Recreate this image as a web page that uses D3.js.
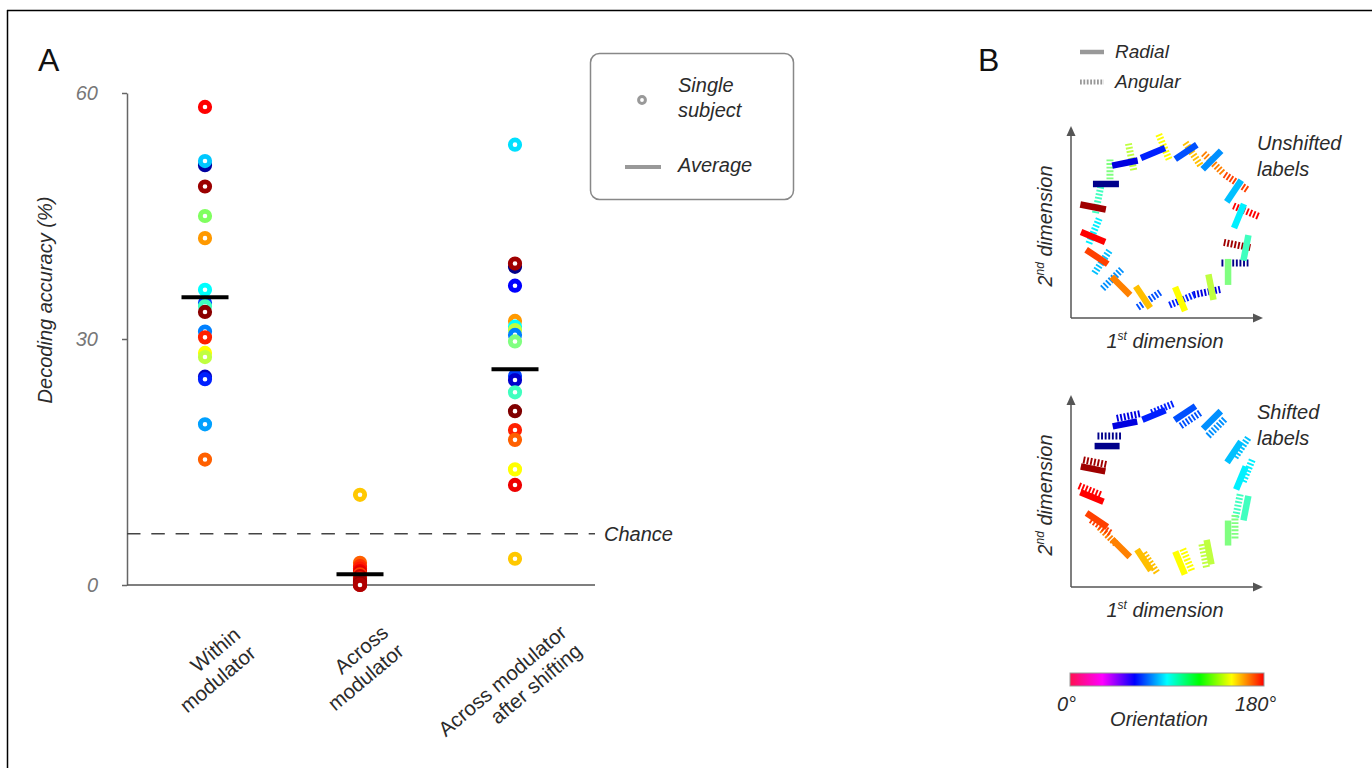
<!DOCTYPE html>
<html><head><meta charset="utf-8">
<script src="https://cdn.jsdelivr.net/npm/d3@7"></script>
<style>
body{margin:0;background:#fff;}
svg text{font-family:"Liberation Sans",Arial,sans-serif;}
</style></head><body>
<svg id="c" width="1372" height="768"></svg>
<script>
// ---------------- DATA ----------------
const categories = ["Within\nmodulator", "Across\nmodulator", "Across modulator\nafter shifting"];
const yTicks = [0, 30, 60];
const chanceLevel = 6.25;
const averages = [35.1, 1.3, 26.3];

const withinValues = [58.3, 51.2, 51.7, 48.6, 45.0, 42.3, 36.0, 34.4, 34.0, 33.3, 30.9, 30.2, 28.3, 27.8, 25.4, 25.1, 19.6, 15.3];
const withinColors = ["#ff0000", "#0000a0", "#00c8ff", "#9b0000", "#80ff60", "#ff9900", "#00ffff", "#0040ff", "#40ffbf", "#8b0000", "#0080ff", "#ff2000", "#ffff00", "#c0ff40", "#0000c0", "#0020ff", "#00a0ff", "#ff6000"];

const acrossValues = [11.0, 2.7, 2.3, 2.0, 1.7, 1.5, 1.3, 1.1, 0.9, 0.8, 0.6, 0.5, 0.4, 0.3, 0.2, 0.1, 0.0, 0.0];
const acrossColors = ["#ffc800", "#ff6000", "#ff3000", "#ff1a00", "#f00000", "#e00000", "#ff4000", "#d00000", "#c00000", "#ff2000", "#b00000", "#c00000", "#a00000", "#b00000", "#900000", "#a00000", "#c00000", "#b00000"];

const shiftedValues = [53.7, 38.8, 39.2, 36.5, 32.2, 31.5, 31.1, 30.5, 29.7, 25.5, 25.0, 23.5, 21.2, 18.9, 17.7, 14.1, 12.2, 3.2];
const shiftedColors = ["#00e0ff", "#00008b", "#a00000", "#0000ff", "#ff9900", "#00ffff", "#c0ff40", "#0080ff", "#80ff80", "#0040ff", "#0000cc", "#40ffbf", "#800000", "#ff2000", "#ff6000", "#ffff00", "#ee0000", "#ffc800"];

// Panel B: 16 orientations (degrees) and their colours
const orientations = d3.range(16).map(k => k * 11.25);
const orientationColors = ["#00008b", "#0000e0", "#0020ff", "#0050ff", "#0090ff", "#00c0ff", "#00f0ff", "#40ffbf", "#80ff80", "#bfff40", "#ffff00", "#ffbf00", "#ff8000", "#ff4000", "#ff0000", "#a00000"];
// positions in (1st dimension, 2nd dimension) units 0..100
const unshiftedRadialX = [18.2, 28.1, 42.7, 59.9, 73.4, 84.9, 87.5, 91.1, 81.8, 72.9, 56.8, 37.5, 26.0, 13.5, 11.5, 11.5];
const unshiftedRadialY = [69.8, 80.7, 85.9, 86.5, 82.3, 66.1, 53.1, 36.5, 24.0, 16.1, 9.9, 10.9, 16.7, 31.8, 42.2, 57.8];
const unshiftedAngularX = [85.4, 70.8, 57.8, 40.6, 21.4, 16.1, 12.0, 14.1, 20.3, 31.3, 48.4, 63.5, 74.0, 85.9, 91.1, 86.5];
const unshiftedAngularY = [28.6, 13.5, 9.4, 9.4, 20.3, 29.2, 45.3, 61.5, 75.5, 83.9, 89.1, 85.4, 80.7, 70.8, 55.7, 38.0];
const shiftedRadialX = [18.8, 28.1, 43.2, 59.4, 73.4, 84.9, 88.5, 91.1, 81.8, 71.9, 56.8, 38.0, 26.0, 13.5, 10.9, 11.5];
const shiftedRadialY = [73.4, 84.9, 89.6, 90.6, 87.0, 70.3, 56.8, 41.1, 28.1, 18.2, 12.5, 14.1, 20.3, 34.9, 46.9, 61.5];
const shiftedAngularX = [20.3, 30.2, 47.9, 62.5, 76.0, 89.1, 92.2, 87.0, 85.4, 69.3, 60.4, 41.1, 18.8, 15.1, 9.4, 12.0];
const shiftedAngularY = [78.6, 89.1, 93.2, 87.5, 83.3, 72.9, 60.9, 42.7, 31.8, 16.7, 14.6, 13.0, 27.1, 31.8, 50.5, 65.1];

const colorbarStops = ["#ff1050", "#ff00ff", "#0000ff", "#00ffff", "#00ff00", "#ffff00", "#ff0000"];

// ---------------- DRAW ----------------
const svg = d3.select("#c");
const TXT = "#2b2b2b";

// frame
svg.append("line").attr("x1", 7).attr("x2", 1372).attr("y1", 10.5).attr("y2", 10.5).attr("stroke", "#000").attr("stroke-width", 1.5);
svg.append("line").attr("x1", 7.5).attr("x2", 7.5).attr("y1", 10).attr("y2", 768).attr("stroke", "#000").attr("stroke-width", 1.5);

// panel letters
svg.append("text").attr("x", 38).attr("y", 71).attr("font-size", 32).attr("fill", "#111").text("A");
svg.append("text").attr("x", 978).attr("y", 71).attr("font-size", 32).attr("fill", "#111").text("B");

// ===== Panel A =====
const yA = d3.scaleLinear().domain([0, 60]).range([585, 93]);
const xA = d3.scalePoint().domain(d3.range(categories.length)).range([205, 515]);
const axisX = 127;

const yAxis = d3.axisLeft(yA).tickValues(yTicks).tickSize(5).tickSizeOuter(0).tickPadding(24).tickFormat(d3.format("d"));
const gy = svg.append("g").attr("transform", `translate(${axisX},0)`).call(yAxis);
gy.select(".domain").attr("stroke", "#666").attr("stroke-width", 1.5);
gy.selectAll(".tick line").attr("stroke", "#666").attr("stroke-width", 1.5);
gy.selectAll(".tick text").attr("font-size", 20).attr("font-style", "italic").attr("fill", "#777")
  .attr("font-family", "Liberation Sans, Arial, sans-serif");

// x baseline
svg.append("line").attr("x1", axisX).attr("x2", 595).attr("y1", yA(0)).attr("y2", yA(0)).attr("stroke", "#555").attr("stroke-width", 1.5);
// chance
svg.append("line").attr("x1", axisX).attr("x2", 595).attr("y1", yA(chanceLevel)).attr("y2", yA(chanceLevel))
  .attr("stroke", "#444").attr("stroke-width", 1.6).attr("stroke-dasharray", "13.5,10.8");
svg.append("text").attr("x", 604).attr("y", yA(chanceLevel) + 7).attr("font-size", 20).attr("font-style", "italic").attr("fill", TXT).text("Chance");

// y label
svg.append("text").attr("transform", "translate(52,300) rotate(-90)").attr("text-anchor", "middle")
  .attr("font-size", 20).attr("font-style", "italic").attr("fill", TXT).text("Decoding accuracy (%)");

// dots
const cols = [
  {v: withinValues, c: withinColors},
  {v: acrossValues, c: acrossColors},
  {v: shiftedValues, c: shiftedColors}
];
cols.forEach((col, i) => {
  svg.append("g").selectAll("circle").data(col.v).join("circle")
    .attr("cx", xA(i)).attr("cy", d => yA(d)).attr("r", 4.7)
    .attr("fill", "#fff").attr("stroke", (d, j) => col.c[j]).attr("stroke-width", 4.8);
});
// averages
svg.append("g").selectAll("line").data(averages).join("line")
  .attr("x1", (d, i) => xA(i) - 23.5).attr("x2", (d, i) => xA(i) + 23.5)
  .attr("y1", d => yA(d)).attr("y2", d => yA(d)).attr("stroke", "#000").attr("stroke-width", 4);

// category labels (right-aligned blocks rotated about their centre)
const labelCentres = [[210, 670], [358, 668], [510, 690]];
categories.forEach((cat, i) => {
  const lines = cat.split("\n");
  const g = svg.append("g").attr("transform", `translate(${labelCentres[i][0]},${labelCentres[i][1]}) rotate(-40)`);
  const ts = lines.map((l, k) => g.append("text").attr("font-size", 20.5).attr("fill", TXT)
      .attr("text-anchor", "end").attr("y", (k - (lines.length - 1) / 2) * 24 + 7).text(l));
  const w = d3.max(ts, t => t.node().getComputedTextLength());
  ts.forEach(t => t.attr("x", w / 2));
});

// legend A
svg.append("rect").attr("x", 590.5).attr("y", 53.5).attr("width", 203).attr("height", 146).attr("rx", 9)
  .attr("fill", "#fff").attr("stroke", "#888").attr("stroke-width", 1.5);
svg.append("circle").attr("cx", 642).attr("cy", 100).attr("r", 3.4).attr("fill", "#fff").attr("stroke", "#999").attr("stroke-width", 3);
svg.append("line").attr("x1", 625).attr("x2", 661).attr("y1", 167).attr("y2", 167).attr("stroke", "#999").attr("stroke-width", 4);
[["Single", 678, 92], ["subject", 678, 117], ["Average", 678, 172]].forEach(d => {
  svg.append("text").attr("x", d[1]).attr("y", d[2]).attr("font-size", 20).attr("font-style", "italic").attr("fill", TXT).text(d[0]);
});

// ===== Panel B =====
// legend B
svg.append("line").attr("x1", 1080).attr("x2", 1104).attr("y1", 52).attr("y2", 52).attr("stroke", "#999").attr("stroke-width", 4.5);
svg.append("line").attr("x1", 1080).attr("x2", 1104).attr("y1", 82).attr("y2", 82).attr("stroke", "#999").attr("stroke-width", 5).attr("stroke-dasharray", "1.8,1.6");
svg.append("text").attr("x", 1115).attr("y", 58).attr("font-size", 19).attr("font-style", "italic").attr("fill", TXT).text("Radial");
svg.append("text").attr("x", 1115).attr("y", 88).attr("font-size", 19).attr("font-style", "italic").attr("fill", TXT).text("Angular");

const xB = d3.scaleLinear().domain([0, 100]).range([1071, 1263]);
const yTop = d3.scaleLinear().domain([0, 100]).range([318, 126]);
const yBot = d3.scaleLinear().domain([0, 100]).range([587, 395]);

function drawAxes(yS, title1, title2) {
  const g = svg.append("g");
  const x0 = xB(0), y0 = yS(0), xT = xB(100), yT = yS(100);
  g.append("line").attr("x1", x0).attr("x2", x0).attr("y1", y0).attr("y2", yT + 8).attr("stroke", "#555").attr("stroke-width", 1.5);
  g.append("line").attr("x1", x0).attr("x2", xT - 8).attr("y1", y0).attr("y2", y0).attr("stroke", "#555").attr("stroke-width", 1.5);
  g.append("path").attr("d", `M${x0},${yT} L${x0 - 4.5},${yT + 10} L${x0 + 4.5},${yT + 10} Z`).attr("fill", "#555");
  g.append("path").attr("d", `M${xT},${y0} L${xT - 10},${y0 - 4.5} L${xT - 10},${y0 + 4.5} Z`).attr("fill", "#555");
  const t1 = g.append("text").attr("x", (x0 + xT) / 2 - 2).attr("y", y0 + 30).attr("text-anchor", "middle")
    .attr("font-size", 20).attr("font-style", "italic").attr("fill", TXT);
  t1.append("tspan").text("1");
  t1.append("tspan").attr("font-size", 12).attr("dy", -8).text("st");
  t1.append("tspan").attr("dy", 8).text(" dimension");
  const t2 = g.append("text").attr("transform", `translate(${x0 - 19},${(y0 + yT) / 2 + 4}) rotate(-90)`).attr("text-anchor", "middle")
    .attr("font-size", 20).attr("font-style", "italic").attr("fill", TXT);
  t2.append("tspan").text("2");
  t2.append("tspan").attr("font-size", 12).attr("dy", -8).text("nd");
  t2.append("tspan").attr("dy", 8).text(" dimension");
  g.append("text").attr("x", 1257).attr("y", yT + 24).attr("font-size", 20).attr("font-style", "italic").attr("fill", TXT).text(title1);
  g.append("text").attr("x", 1257).attr("y", yT + 50).attr("font-size", 20).attr("font-style", "italic").attr("fill", TXT).text(title2);
}
drawAxes(yTop, "Unshifted", "labels");
drawAxes(yBot, "Shifted", "labels");

function drawGlyphs(xs, ys, yS, dashed, len) {
  const data = orientations.map((o, k) => ({o, k, x: xs[k], y: ys[k]}));
  svg.append("g").selectAll("line").data(data).join("line")
    .attr("x1", d => xB(d.x) - len / 2 * Math.cos(d.o * Math.PI / 180))
    .attr("y1", d => yS(d.y) + len / 2 * Math.sin(d.o * Math.PI / 180))
    .attr("x2", d => xB(d.x) + len / 2 * Math.cos(d.o * Math.PI / 180))
    .attr("y2", d => yS(d.y) - len / 2 * Math.sin(d.o * Math.PI / 180))
    .attr("stroke", d => orientationColors[d.k]).attr("stroke-width", dashed ? 7 : 6.5)
    .attr("stroke-dasharray", dashed ? "1.9,1.7" : null);
}
drawGlyphs(unshiftedAngularX, unshiftedAngularY, yTop, true, 27);
drawGlyphs(unshiftedRadialX, unshiftedRadialY, yTop, false, 26);
drawGlyphs(shiftedAngularX, shiftedAngularY, yBot, true, 25);
drawGlyphs(shiftedRadialX, shiftedRadialY, yBot, false, 25);

// colour bar
const defs = svg.append("defs");
const grad = defs.append("linearGradient").attr("id", "cb").attr("x1", "0%").attr("x2", "100%");
colorbarStops.forEach((c, i) => grad.append("stop").attr("offset", (i / (colorbarStops.length - 1) * 100) + "%").attr("stop-color", c));
svg.append("rect").attr("x", 1070).attr("y", 673).attr("width", 194).attr("height", 13).attr("fill", "url(#cb)").attr("stroke", "#999").attr("stroke-width", 1);
svg.append("text").attr("x", 1057).attr("y", 711).attr("font-size", 20).attr("font-style", "italic").attr("fill", TXT).text("0°");
svg.append("text").attr("x", 1235).attr("y", 711).attr("font-size", 20).attr("font-style", "italic").attr("fill", TXT).text("180°");
svg.append("text").attr("x", 1159).attr("y", 726).attr("text-anchor", "middle").attr("font-size", 20).attr("font-style", "italic").attr("fill", TXT).text("Orientation");
</script>
</body></html>
